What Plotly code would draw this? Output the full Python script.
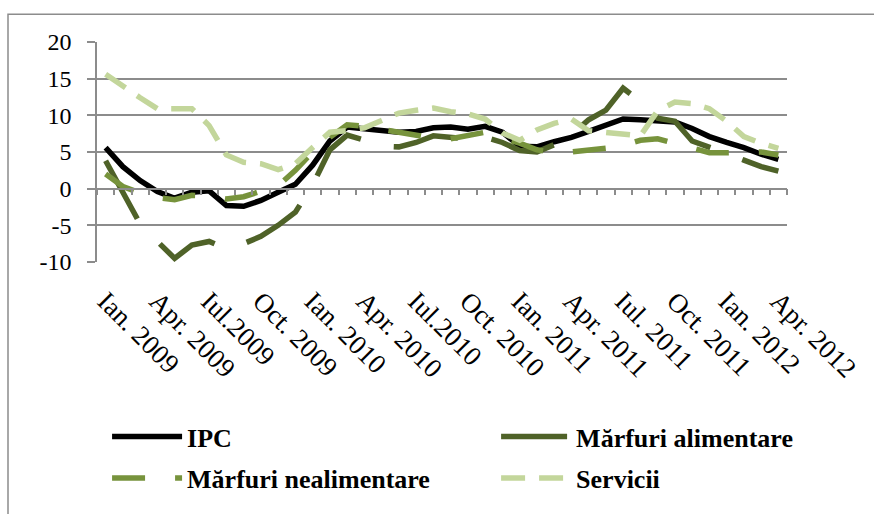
import plotly.graph_objects as go

months = ["Ian.", "Feb.", "Mar.", "Apr.", "Mai", "Iun.", "Iul.", "Aug.", "Sep.", "Oct.", "Nov.", "Dec."]
years = [2009, 2010, 2011, 2012]
categories = [f"{m} {y}" for y in years for m in months][:40]

tick_labels = ["Ian. 2009", "Apr. 2009", "Iul.2009", "Oct. 2009", "Ian. 2010", "Apr. 2010",
               "Iul.2010", "Oct. 2010", "Ian. 2011", "Apr. 2011", "Iul. 2011", "Oct. 2011",
               "Ian. 2012", "Apr. 2012"]

y_ticks = [-10, -5, 0, 5, 10, 15, 20]
y_tick_labels = ["-10", "-5", "0", "5", "10", "15", "20"]

ipc = [5.6, 3.0, 1.1, -0.4, -1.3, -0.5, -0.3, -2.3, -2.4, -1.6,
       -0.5, 0.6, 3.2, 6.5, 8.4, 8.2, 8.0, 7.7, 7.8, 8.3,
       8.4, 8.1, 8.5, 7.7, 5.8, 5.7, 6.4, 7.0, 7.8, 8.7,
       9.5, 9.4, 9.3, 9.1, 8.2, 7.1, 6.3, 5.6, 4.7, 4.0]
alimentare = [3.8, -0.6, -4.8, -7.2, -9.5, -7.7, -7.2, -8.2, -7.5, -6.5,
              -5.0, -3.2, 0.5, 5.3, 7.3, 6.6, 5.8, 5.7, 6.3, 7.2,
              7.0, 6.8, 7.0, 6.3, 5.2, 5.0, 6.0, 7.3, 9.4, 10.7,
              13.7, 11.9, 9.6, 9.2, 6.5, 5.7, 4.8, 3.9, 3.0, 2.4]
nealimentare = [2.0, 0.3, -0.6, -1.2, -1.5, -0.9, -1.0, -1.4, -1.1, -0.4,
                0.4, 2.5, 5.0, 7.0, 8.7, 8.5, 8.1, 7.7, 7.2, 6.9,
                6.8, 7.3, 7.7, 6.9, 6.2, 5.3, 4.9, 5.0, 5.2, 5.5,
                5.9, 6.6, 6.8, 6.2, 5.5, 4.9, 4.9, 4.9, 5.0, 4.6]
servicii = [15.6, 13.9, 12.4, 10.9, 10.9, 10.9, 8.6, 4.6, 3.6, 3.4,
            2.6, 3.4, 5.6, 7.7, 7.9, 8.3, 9.3, 10.3, 10.7, 11.0,
            10.5, 10.2, 9.5, 7.6, 6.6, 8.0, 8.9, 9.5, 7.9, 7.7,
            7.5, 7.2, 10.6, 11.8, 11.6, 10.9, 9.2, 7.1, 6.2, 5.5]

FONT = "Liberation Serif"
GRID = "#8c8c8c"
idx = list(range(len(categories)))

fig = go.Figure()
# helper (draws nothing) so the zero-level category axis is rendered
fig.add_trace(go.Scatter(x=idx, y=[None] * len(idx), mode="lines", xaxis="x2",
                         showlegend=False, hoverinfo="skip"))
fig.add_trace(go.Scatter(x=categories, y=ipc, mode="lines", name="IPC",
                         line=dict(color="#000000", width=5.5), legend="legend"))
fig.add_trace(go.Scatter(x=categories, y=alimentare, mode="lines", name="Mărfuri alimentare",
                         line=dict(color="#4F6228", width=5.5, dash="66px,34px"), legend="legend2"))
fig.add_trace(go.Scatter(x=categories, y=nealimentare, mode="lines", name="Mărfuri nealimentare",
                         line=dict(color="#77933C", width=5.5, dash="33px,30px"), legend="legend3"))
fig.add_trace(go.Scatter(x=categories, y=servicii, mode="lines", name="Servicii",
                         line=dict(color="#C3D69B", width=5.5, dash="24px,14px"), legend="legend4"))

legend_common = dict(xanchor="left", yanchor="top", orientation="v",
                     font=dict(family=FONT, size=26, color="black", weight="bold"),
                     itemwidth=70, bgcolor="rgba(0,0,0,0)", borderwidth=0)
row1_y = -0.687
row2_y = -0.876
col1_x = 0.0146
col2_x = 0.5784

fig.update_layout(
    template="none",
    width=874, height=514,
    margin=dict(l=97, r=87, t=42, b=250, pad=0),
    paper_bgcolor="white", plot_bgcolor="white",
    showlegend=True,
    legend=dict(x=col1_x, y=row1_y, **legend_common),
    legend2=dict(x=col2_x, y=row1_y, **legend_common),
    legend3=dict(x=col1_x, y=row2_y, **legend_common),
    legend4=dict(x=col2_x, y=row2_y, **legend_common),
    xaxis=dict(type="category", categoryorder="array", categoryarray=categories,
               range=[-0.5, 39.5], tickmode="array", tickvals=categories[::3],
               ticktext=tick_labels, tickangle=45, showgrid=False, zeroline=False,
               showline=False, ticks="", ticklabelstandoff=17, automargin=False,
               tickfont=dict(family=FONT, size=27, color="black")),
    xaxis2=dict(overlaying="x", anchor="free", position=1/3, type="linear", visible=True,
                range=[-0.5, 39.5], tickmode="array",
                tickvals=[k - 0.5 for k in range(len(categories) + 1)],
                showticklabels=False, ticks="outside", ticklen=6, tickwidth=1.5,
                tickcolor=GRID, showline=True, linecolor=GRID, linewidth=1.5,
                showgrid=False, zeroline=False, automargin=False),
    yaxis=dict(range=[-10, 20], tickmode="array", tickvals=y_ticks, ticktext=y_tick_labels,
               showgrid=True, gridcolor=GRID, gridwidth=1.5, zeroline=False,
               showline=True, linecolor=GRID, linewidth=1.5, ticks="outside",
               ticklen=8, tickwidth=1.5, tickcolor=GRID, ticklabelstandoff=11,
               automargin=False,
               tickfont=dict(family=FONT, size=24, color="black")),
    shapes=[dict(type="rect", xref="paper", yref="paper",
                 x0=(8 - 97) / 690, x1=(900 - 97) / 690,
                 y0=-(540 - 264) / 222, y1=(264 - 14) / 222,
                 line=dict(color=GRID, width=1.5), fillcolor="rgba(0,0,0,0)", layer="below")],
)

fig.write_html("out.html", config={"displayModeBar": False},
               post_script="document.body.style.margin='0';document.body.style.overflow='hidden';")
